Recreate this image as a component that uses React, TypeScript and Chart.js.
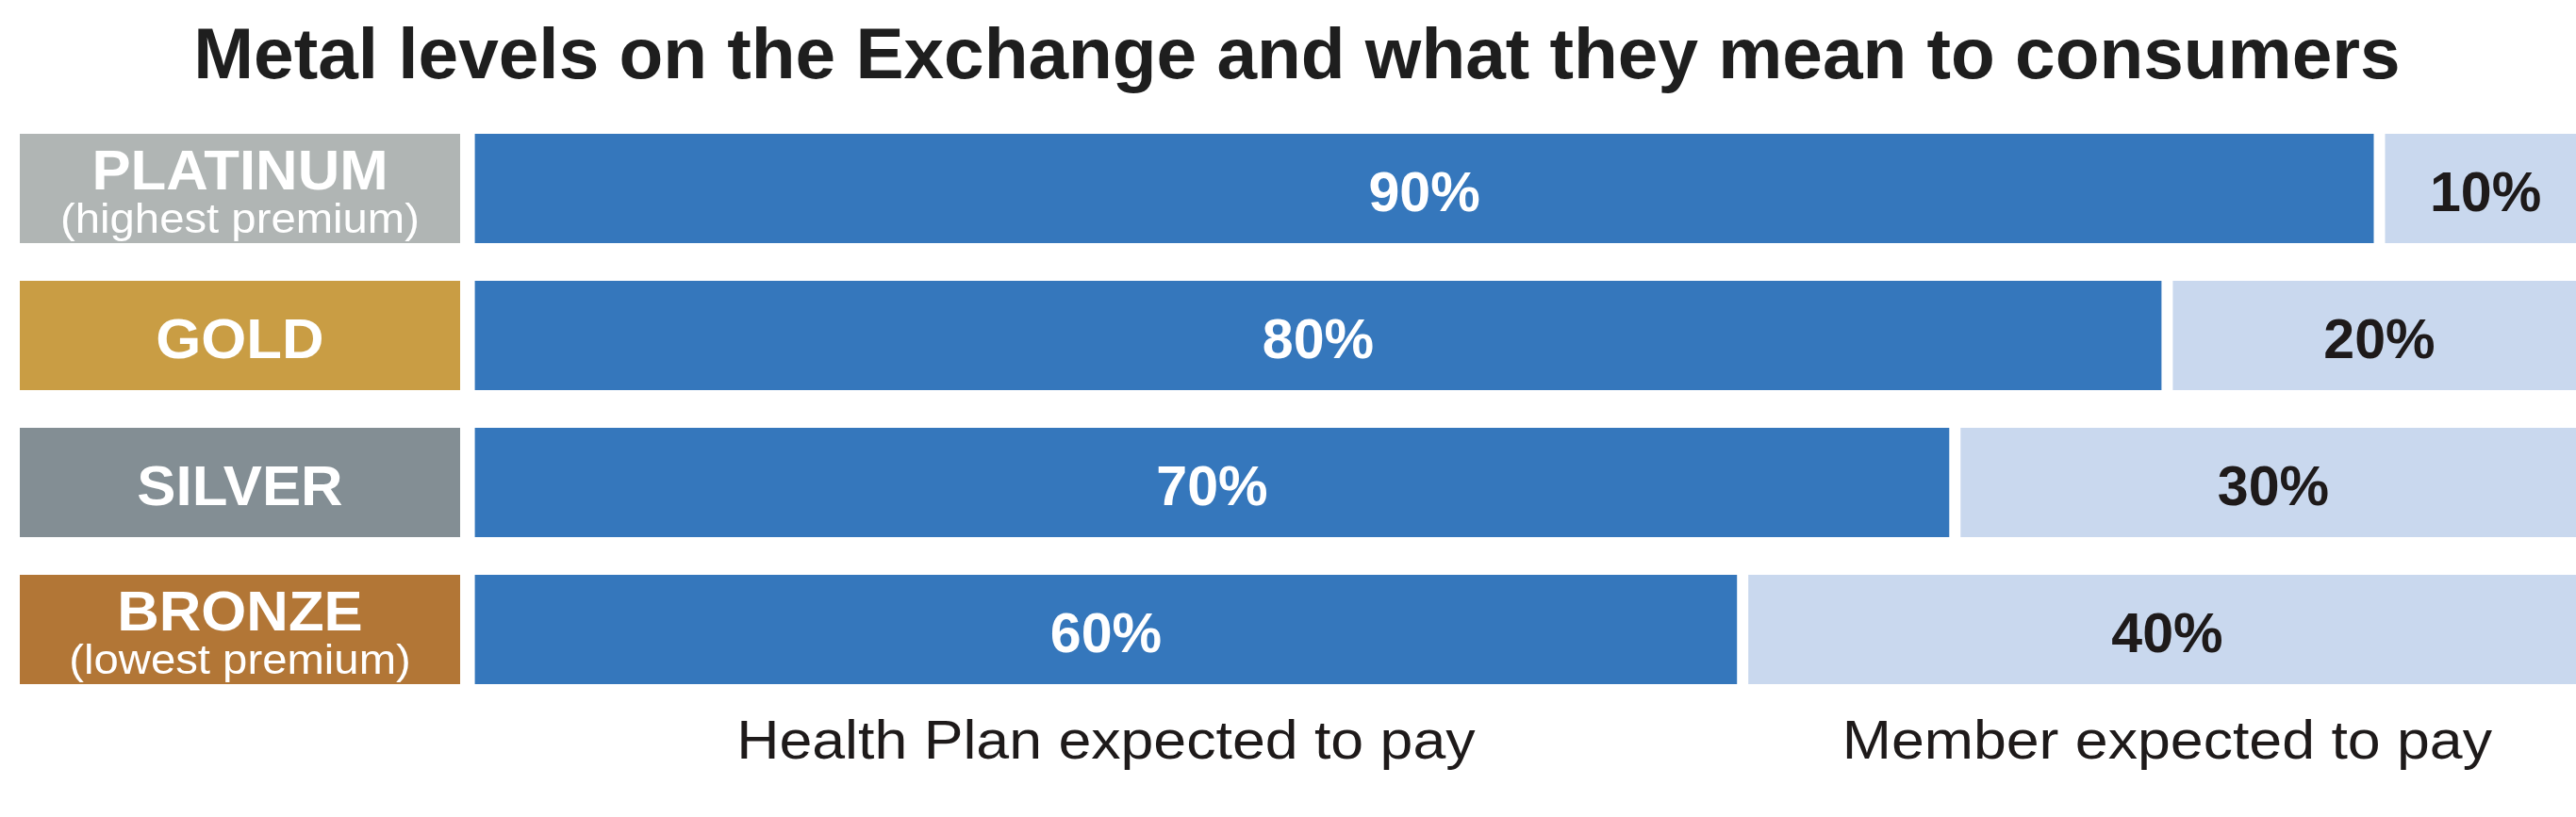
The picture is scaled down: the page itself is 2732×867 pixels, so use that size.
import React, { useEffect, useRef } from "react";
import { Chart, registerables } from "chart.js";

Chart.register(...registerables);

// ---- data ----
const categories = ["PLATINUM", "GOLD", "SILVER", "BRONZE"];
const subLabels = ["(highest premium)", "", "", "(lowest premium)"];
const planPays = [90, 80, 70, 60];
const memberPays = [10, 20, 30, 40];
const seriesLabels = ["Health Plan expected to pay", "Member expected to pay"];
const titleText = "Metal levels on the Exchange and what they mean to consumers";

// ---- styles ----
const tierColors = ["#B0B5B4", "#C99D44", "#838E94", "#B27636"];
const seriesColors = ["#3577BC", "#C9D8EE"];
const valueTextColors = ["#FFFFFF", "#1E1A1A"];
const NARROW = '"Liberation Sans Narrow", "Liberation Sans", Arial, sans-serif';

function fitScale(ctx: CanvasRenderingContext2D, text: string, font: string, target: number) {
  ctx.save();
  ctx.font = font;
  const m = ctx.measureText(text);
  ctx.restore();
  const ink = (m.actualBoundingBoxLeft || 0) + (m.actualBoundingBoxRight || m.width);
  return ink > 0 ? target / ink : 1;
}

function drawText(
  ctx: CanvasRenderingContext2D,
  text: string,
  x: number,
  y: number,
  font: string,
  color: string,
  sx: number
) {
  ctx.save();
  ctx.font = font;
  ctx.fillStyle = color;
  ctx.textAlign = "center";
  ctx.textBaseline = "alphabetic";
  ctx.translate(x, y);
  ctx.scale(sx, 1);
  ctx.fillText(text, 0, 0);
  ctx.restore();
}

const decorPlugin = {
  id: "decor",
  beforeDatasetsDraw(chart: any) {
    const ctx: CanvasRenderingContext2D = chart.ctx;
    const meta = chart.getDatasetMeta(0);
    const mainFont = `bold 60px ${NARROW}`;
    const subFont = `44px ${NARROW}`;
    const sMain = fitScale(ctx, "PLATINUM", mainFont, 306);
    const sSub = fitScale(ctx, "(highest premium)", subFont, 376);
    meta.data.forEach((bar: any, i: number) => {
      const h = bar.height;
      const top = bar.y - h / 2;
      ctx.save();
      ctx.fillStyle = tierColors[i];
      ctx.fillRect(21, top, 467, h);
      ctx.restore();
      const cx = 254.5;
      if (subLabels[i]) {
        drawText(ctx, categories[i], cx, bar.y + 1, mainFont, "#FFFFFF", sMain);
        drawText(ctx, subLabels[i], cx, bar.y + 47, subFont, "#FFFFFF", sSub);
      } else {
        drawText(ctx, categories[i], cx, bar.y + 24, mainFont, "#FFFFFF", sMain);
      }
    });
  },
  afterDatasetsDraw(chart: any) {
    const ctx: CanvasRenderingContext2D = chart.ctx;
    const valFont = `bold 60px ${NARROW}`;
    const sVal = fitScale(ctx, "10%", valFont, 114);
    chart.data.datasets.forEach((ds: any, di: number) => {
      const meta = chart.getDatasetMeta(di);
      meta.data.forEach((bar: any, i: number) => {
        const cx = (bar.x + bar.base) / 2;
        drawText(ctx, `${ds.data[i]}%`, cx, bar.y + 24, valFont, valueTextColors[di], sVal);
      });
    });
    // series captions under the last row
    const capFont = `58px ${NARROW}`;
    const sCap = fitScale(ctx, seriesLabels[0], capFont, 779);
    chart.data.datasets.forEach((ds: any, di: number) => {
      const meta = chart.getDatasetMeta(di);
      const last = meta.data[meta.data.length - 1];
      const cx = (last.x + last.base) / 2;
      drawText(ctx, seriesLabels[di], cx, 805, capFont, "#1E1A1A", sCap);
    });
    // title
    const tFont = `bold 76px ${NARROW}`;
    const sTitle = fitScale(ctx, titleText, tFont, 2333);
    drawText(ctx, titleText, 1375.5, 83, tFont, "#1E1E1E", sTitle);
  },
};

export default function App() {
  const ref = useRef<HTMLCanvasElement | null>(null);
  useEffect(() => {
    if (!ref.current) return;
    const chart = new Chart(ref.current, {
      type: "bar",
      data: {
        labels: categories,
        datasets: [
          {
            label: seriesLabels[0],
            data: planPays,
            backgroundColor: seriesColors[0],
            borderColor: "#FFFFFF",
            borderWidth: { left: 6, right: 6, top: 0, bottom: 0 },
            borderSkipped: false,
            categoryPercentage: 1,
            barPercentage: 0.7436,
          },
          {
            label: seriesLabels[1],
            data: memberPays,
            backgroundColor: seriesColors[1],
            borderColor: "#FFFFFF",
            borderWidth: { left: 6, right: 6, top: 0, bottom: 0 },
            borderSkipped: false,
            categoryPercentage: 1,
            barPercentage: 0.7436,
          },
        ],
      },
      options: {
        indexAxis: "y",
        animation: false,
        responsive: false,
        devicePixelRatio: 1,
        layout: { padding: { left: 497.6, right: 11.4, top: 122, bottom: 121 } },
        scales: {
          x: { stacked: true, min: 0, max: 100, display: false },
          y: { stacked: true, display: false },
        },
        plugins: {
          legend: { display: false },
          tooltip: { enabled: false },
          title: { display: false },
        },
      } as any,
      plugins: [decorPlugin],
    });
    return () => chart.destroy();
  }, []);

  return (
    <div
      style={{
        position: "absolute",
        left: 0,
        top: 0,
        width: 2732,
        height: 867,
        overflow: "hidden",
        background: "#FFFFFF",
      }}
    >
      <canvas ref={ref} width={2760} height={867} style={{ width: 2760, height: 867, display: "block" }} />
    </div>
  );
}
